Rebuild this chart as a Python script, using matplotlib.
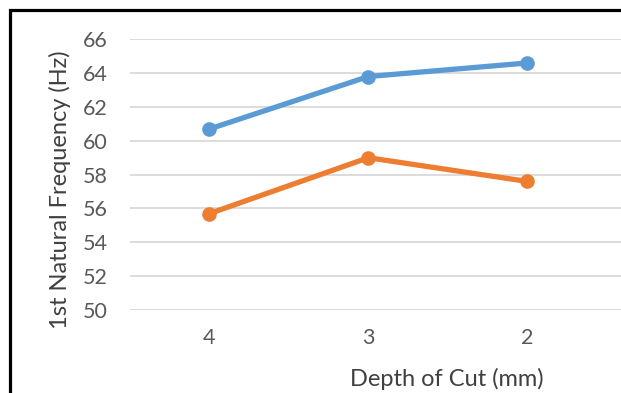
import matplotlib
matplotlib.use("Agg")
import matplotlib.pyplot as plt
from matplotlib.patches import Rectangle

# Data
depth_labels = ["4", "3", "2"]
series_a = [60.7, 63.8, 64.6]
series_b = [55.7, 59.0, 57.6]
y_ticks = [50, 52, 54, 56, 58, 60, 62, 64, 66]

plt.rcParams["font.family"] = ["Lato", "DejaVu Sans"]

fig = plt.figure(figsize=(6.21, 3.93), dpi=100)
ax = fig.add_axes([130 / 621, 83 / 393, 491 / 621, 270.7 / 393])

x = list(range(len(depth_labels)))
ax.plot(x, series_a, color="#5b9bd5", lw=3.8, marker="o", ms=9.5,
        solid_capstyle="round", zorder=3)
ax.plot(x, series_b, color="#ed7d31", lw=3.8, marker="o", ms=9.5,
        solid_capstyle="round", zorder=3)

ax.set_xlim(-0.5, 2.59)
ax.set_ylim(50, 66)
ax.set_yticks(y_ticks)
ax.set_yticklabels([str(v) for v in y_ticks])
ax.set_xticks(x)
ax.set_xticklabels(depth_labels)

ax.grid(axis="y", color="#d9d9d9", lw=1.3)
ax.set_axisbelow(True)
for s in ax.spines.values():
    s.set_visible(False)
ax.tick_params(axis="both", length=0, labelsize=15.5, colors="#595959")
ax.tick_params(axis="y", pad=16)
ax.tick_params(axis="x", pad=13)

fig.text(60 / 621, 1 - 190 / 393, "1st Natural Frequency (Hz)", rotation=90,
         ha="center", va="center", fontsize=17, color="#404040")
fig.text(447 / 621, 1 - 379 / 393, "Depth of Cut (mm)",
         ha="center", va="center", fontsize=17, color="#404040")

# Chart frame
fig.patches.append(Rectangle((9.5 / 621, -0.2), 1.2, 1.2 - 9.5 / 393,
                             transform=fig.transFigure, fill=False,
                             edgecolor="black", lw=2.3, zorder=10))

fig.savefig("out.png", dpi=100)
